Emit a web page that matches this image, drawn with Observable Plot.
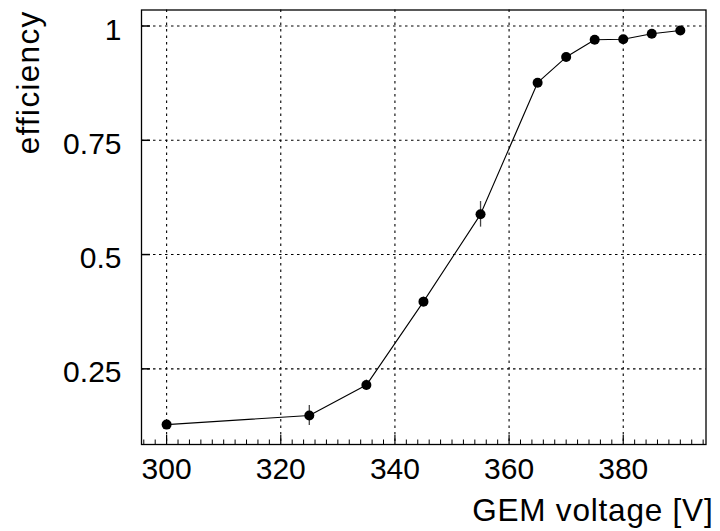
<!DOCTYPE html>
<html>
<head>
<meta charset="utf-8">
<script src="https://cdn.jsdelivr.net/npm/d3@7"></script>
<script src="https://cdn.jsdelivr.net/npm/@observablehq/plot@0.6"></script>
<style>
  html, body { margin: 0; padding: 0; background: white; }
</style>
</head>
<body>
<div id="chart"></div>
<script>
// Data
const voltages   = [300, 325, 335, 345, 355, 365, 370, 375, 380, 385, 390];
const efficiency = [0.128, 0.148, 0.2145, 0.397, 0.588, 0.876, 0.932, 0.970, 0.971, 0.983, 0.990];
const errors     = [0.004, 0.022, 0.011, 0.010, 0.028, 0.009, 0.005, 0.004, 0.004, 0.003, 0.003];

const xTicks = [300, 320, 340, 360, 380];
const xMinorTicks = d3.range(296, 395, 2).filter(v => v % 20 !== 0);
const yTicks = [0.25, 0.5, 0.75, 1];
const yTickLabels = ["0.25", "0.5", "0.75", "1"];

const xLabel = "GEM voltage [V]";
const yLabel = "efficiency";

const data = voltages.map((v, i) => ({x: v, y: efficiency[i], e: errors[i]}));

const xDomain = [295.6, 394.5];
const yDomain = [0.0845, 1.035];

const font = "'Liberation Sans', Arial, Helvetica, sans-serif";

const chart = Plot.plot({
  width: 720,
  height: 531,
  marginLeft: 141,
  marginRight: 14.5,
  marginTop: 9.5,
  marginBottom: 87,
  x: {domain: xDomain},
  y: {domain: yDomain},
  style: {fontFamily: font, fontSize: "30px", color: "black", background: "white"},
  marks: [
    Plot.gridX(xTicks, {stroke: "black", strokeOpacity: 1, strokeWidth: 1.1, strokeDasharray: "2.5,4"}),
    Plot.gridY(yTicks, {stroke: "black", strokeOpacity: 1, strokeWidth: 1.1, strokeDasharray: "2.5,3.5"}),
    // major x ticks (inside, from bottom)
    Plot.ruleX(xTicks, {x: d => d, y1: yDomain[0], y2: yDomain[0], insetTop: -9, stroke: "black", strokeWidth: 1.2}),
    // minor x ticks
    Plot.ruleX(xMinorTicks, {x: d => d, y1: yDomain[0], y2: yDomain[0], insetTop: -4.5, stroke: "black", strokeWidth: 1}),
    // major y ticks (inside, from left)
    Plot.ruleY(yTicks, {y: d => d, x1: xDomain[0], x2: xDomain[0], insetRight: -9, stroke: "black", strokeWidth: 1.5}),
    Plot.frame({stroke: "black", strokeWidth: 1.3}),
    Plot.axisX({ticks: xTicks, tickSize: 0, tickPadding: 13, label: null, fontSize: 30, tickFormat: d => String(d)}),
    Plot.axisY({ticks: yTicks, tickSize: 0, tickPadding: 20, label: null, fontSize: 30, dy: 4,
      tickFormat: d => yTickLabels[yTicks.indexOf(d)]}),
    // error bars
    Plot.ruleX(data, {x: "x", y1: d => d.y - d.e, y2: d => d.y + d.e, stroke: "#444", strokeWidth: 1.3}),
    Plot.line(data, {x: "x", y: "y", stroke: "black", strokeWidth: 1.1}),
    Plot.dot(data, {x: "x", y: "y", r: 5, fill: "black", stroke: "none"}),
    // axis titles
    Plot.text([xLabel], {frameAnchor: "bottom-right", text: d => d, textAnchor: "end", lineAnchor: "bottom",
      dx: 7.5, dy: 76, fontSize: 31.5, fill: "black"}),
    Plot.text([yLabel], {frameAnchor: "top-left", text: d => d, rotate: -90, textAnchor: "end", lineAnchor: "bottom",
      dx: -103, dy: 0.5, fontSize: 31.5, fill: "black"})
  ]
});

document.getElementById("chart").appendChild(chart);
// slight letter spacing for axis titles (wider rendering in the reference)
chart.querySelectorAll("text").forEach(t => {
  if (t.textContent === xLabel) t.setAttribute("letter-spacing", "0.8");
  if (t.textContent === yLabel) t.setAttribute("letter-spacing", "1.3");
});
</script>
</body>
</html>
